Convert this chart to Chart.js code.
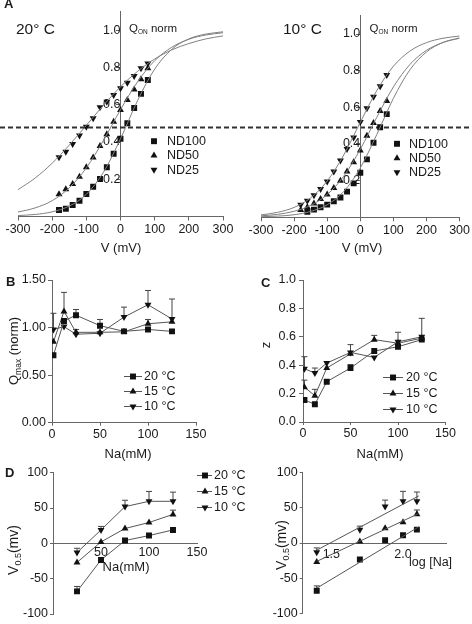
<!DOCTYPE html>
<html>
<head>
<meta charset="utf-8">
<script src="https://cdn.jsdelivr.net/npm/chart.js@4.4.1/dist/chart.umd.min.js"></script>
<style>
  html, body { margin: 0; padding: 0; background: #fff; }
  #fig { position: relative; width: 472px; height: 624px; overflow: hidden; }
  #fig canvas { position: absolute; left: 0; top: 0; }
</style>
</head>
<body>
<div id="fig">
  <canvas id="a20" width="472" height="624"></canvas>
  <canvas id="a10" width="472" height="624"></canvas>
  <canvas id="pb" width="472" height="624"></canvas>
  <canvas id="pc" width="472" height="624"></canvas>
  <canvas id="pd" width="472" height="624"></canvas>
  <canvas id="pdlog" width="472" height="624"></canvas>
</div>
<script>
// ---- data ----

// panel A: Q_ON norm vs V (mV)
const vSteps = [-180, -160, -140, -120, -100, -80, -60, -40, -20, 0, 20, 40, 60, 80];
const vSteps10nd100 = [-160, -140, -120, -100, -80, -60, -40, -20, 0, 20, 40, 60, 80];
const vFit = [-300, -250, -200, -150, -100, -50, 0, 50, 100, 150, 200, 250, 300];

const q20nd100 = [0.035, 0.042, 0.062, 0.085, 0.121, 0.160, 0.201, 0.264, 0.337, 0.417, 0.500, 0.582, 0.658, 0.732];
const q20nd50  = [0.119, 0.146, 0.174, 0.213, 0.264, 0.317, 0.378, 0.442, 0.508, 0.571, 0.625, 0.682, 0.736, 0.795];
const q20nd25  = [0.318, 0.348, 0.389, 0.434, 0.482, 0.527, 0.586, 0.616, 0.652, 0.688, 0.718, 0.754, 0.795, 0.821];
const fit20nd100 = [0.005, 0.011, 0.025, 0.056, 0.119, 0.237, 0.417, 0.622, 0.791, 0.897, 0.953, 0.979, 0.991];
const fit20nd50  = [0.024, 0.046, 0.085, 0.154, 0.261, 0.408, 0.573, 0.723, 0.836, 0.908, 0.951, 0.974, 0.986];
const fit20nd25  = [0.144, 0.206, 0.286, 0.383, 0.489, 0.597, 0.696, 0.779, 0.845, 0.894, 0.928, 0.953, 0.969];

const q10nd100 = [0.030, 0.042, 0.055, 0.069, 0.088, 0.108, 0.140, 0.185, 0.243, 0.316, 0.407, 0.491, 0.563];
const q10nd50  = [0.040, 0.055, 0.075, 0.100, 0.125, 0.160, 0.200, 0.250, 0.300, 0.365, 0.445, 0.515, 0.580, 0.635];
const q10nd25  = [0.068, 0.090, 0.120, 0.155, 0.195, 0.250, 0.310, 0.372, 0.436, 0.520, 0.595, 0.658, 0.715, 0.776];
const fit10nd100 = [0.003, 0.0065, 0.014, 0.032, 0.068, 0.141, 0.269, 0.452, 0.649, 0.805, 0.902, 0.954, 0.979];
const fit10nd50  = [0.008, 0.016, 0.033, 0.065, 0.124, 0.224, 0.371, 0.546, 0.711, 0.834, 0.911, 0.954, 0.977];
const fit10nd25  = [0.013, 0.027, 0.054, 0.106, 0.198, 0.340, 0.518, 0.692, 0.824, 0.907, 0.953, 0.977, 0.989];
const halfLevel = 0.48;

// panels B, C: vs Na (mM)
const naBC = [1.5, 12.5, 25, 50, 75, 100, 125];
const qmax20 = [0.71, 1.07, 1.13, 1.02, 0.96, 0.98, 0.96];
const qmax15 = [0.85, 1.17, 0.95, 0.95, 0.955, 1.04, 1.06];
const qmax10 = [0.98, 1.01, 0.93, 0.94, 1.11, 1.24, 1.09];
const qmaxErr20 = [0, 0, 0.06, 0.065, 0, 0, 0];
const qmaxErr15 = [0, 0.2, 0, 0, 0, 0.045, 0];
const qmaxErr10 = [0.17, 0, 0.05, 0, 0.105, 0.15, 0.21];

const z20 = [0.155, 0.125, 0.284, 0.38, 0.50, 0.53, 0.58];
const z15 = [0.245, 0.185, 0.38, 0.48, 0.58, 0.555, 0.59];
const z10 = [0.375, 0.345, 0.415, 0.49, 0.455, 0.565, 0.60];
const zErr20 = [0, 0, 0, 0.025, 0, 0, 0];
const zErr15 = [0.05, 0.045, 0, 0, 0.03, 0, 0];
const zErr10 = [0.085, 0.035, 0, 0.055, 0, 0.067, 0.13];

// panel D: V0.5 (mV) vs Na and log[Na]
const naD = [25, 50, 75, 100, 125];
const v05_20 = [-68, -23.5, 4, 11, 19];
const v05_15 = [-27, 2, 21, 29.5, 41];
const v05_10 = [-13, 19, 52, 59.5, 59.5];
const v05Err20 = [7, 0, 0, 0, 0];
const v05Err15 = [0, 0, 0, 0, 6];
const v05Err10 = [6, 5, 9, 14, 13];
const logFitX = [1.40, 2.11];
const logFit20 = [-64, 23];
const logFit15 = [-26, 42];
const logFit10 = [-10, 67];

// tick labels
const ticksAx = [-300, -200, -100, 0, 100, 200, 300];
const ticksAy = [0.2, 0.4, 0.6, 0.8, 1.0];
const ticksNa = [0, 50, 100, 150];
const ticksNaD = [50, 100, 150];
const ticksLog = [1.5, 2.0];
const ticksQmax = [0, 0.5, 1.0, 1.5];
const ticksZ = [0, 0.2, 0.4, 0.6, 0.8, 1.0];
const ticksV05 = [-100, -50, 0, 50, 100];

const ndLabels = ['ND100', 'ND50', 'ND25'];
const tempLabels = ['20 °C', '15 °C', '10 °C'];

// ---- drawing ----
const W = 472, H = 624;
const FONT = "'Liberation Sans', Arial, Helvetica, sans-serif";
const INK = '#111', AXIS = '#666', FIT = '#808080', LINE = '#555', TEXT = '#1a1a1a';

Chart.defaults.font.family = FONT;
Chart.defaults.font.size = 12.5;
Chart.defaults.color = TEXT;
Chart.defaults.animation = false;

const MARK = {
  sq: { pointStyle: 'rect', pointRadius: 4.2, pointRotation: 0 },
  up: { pointStyle: 'triangle', pointRadius: 4, pointRotation: 0 },
  dn: { pointStyle: 'triangle', pointRadius: 4, pointRotation: 180 }
};

function pts(xs, ys) { return xs.map((x, i) => ({ x: x, y: ys[i] })); }

function axis(o) {
  return {
    type: 'linear', min: o.min, max: o.max, position: o.pos,
    border: { display: true, color: AXIS, width: 1 },
    grid: { drawOnChartArea: false, drawTicks: o.tl > 0, tickLength: o.tl, color: AXIS },
    ticks: { padding: o.pad, autoSkip: false, maxRotation: 0, color: TEXT, font: { size: 12.5 }, callback: o.fmt },
    afterBuildTicks: s => { s.ticks = o.ticks.map(v => ({ value: v })); }
  };
}

function fitLine(xs, ys) {
  return { data: pts(xs, ys), showLine: true, borderColor: FIT, borderWidth: 1, pointRadius: 0,
           cubicInterpolationMode: 'monotone', fill: false };
}

function series(label, xs, ys, mk, err, joined) {
  return Object.assign({
    label: label, data: pts(xs, ys), errUp: err,
    showLine: joined, borderColor: LINE, borderWidth: 1,
    pointBackgroundColor: INK, pointBorderColor: INK, pointBorderWidth: 0,
    pointHoverRadius: mk.pointRadius
  }, mk);
}

function marker(ctx, mk, x, y) {
  const r = mk.pointRadius;
  ctx.beginPath();
  if (mk.pointStyle === 'rect') {
    const s = r * Math.SQRT1_2;
    ctx.rect(x - s, y - s, 2 * s, 2 * s);
  } else {
    const d = mk.pointRotation === 180 ? -1 : 1;
    const w = r * Math.sin(Math.PI / 3);
    ctx.moveTo(x, y - d * r);
    ctx.lineTo(x + w, y + d * r / 2);
    ctx.lineTo(x - w, y + d * r / 2);
    ctx.closePath();
  }
  ctx.fill();
}

// text with optional subscripts; parts = [[text, size, dy, bold]]
function rich(ctx, parts, x, y, align, rot) {
  ctx.save();
  ctx.translate(x, y);
  if (rot) ctx.rotate(rot);
  const fonts = parts.map(p => (p[3] ? 'bold ' : '') + p[1] + 'px ' + FONT);
  let total = 0;
  const widths = parts.map((p, i) => { ctx.font = fonts[i]; const w = ctx.measureText(p[0]).width; total += w; return w; });
  let cx = align === 'center' ? -total / 2 : 0;
  ctx.textAlign = 'left';
  ctx.textBaseline = 'alphabetic';
  ctx.fillStyle = TEXT;
  parts.forEach((p, i) => { ctx.font = fonts[i]; ctx.fillText(p[0], cx, p[2] || 0); cx += widths[i]; });
  ctx.restore();
}

function decor(cfg) {
  return {
    id: 'decor',
    beforeDatasetsDraw(chart) {
      const ctx = chart.ctx, ys = chart.scales.y;
      ctx.save();
      ctx.strokeStyle = '#444';
      ctx.lineWidth = 1;
      chart.data.datasets.forEach((d, i) => {
        if (!d.errUp) return;
        chart.getDatasetMeta(i).data.forEach((el, j) => {
          const e = d.errUp[j];
          if (!e) return;
          const top = ys.getPixelForValue(d.data[j].y + e);
          ctx.beginPath();
          ctx.moveTo(el.x, el.y);
          ctx.lineTo(el.x, top);
          ctx.moveTo(el.x - 3, top);
          ctx.lineTo(el.x + 3, top);
          ctx.stroke();
        });
      });
      ctx.restore();
    },
    afterDatasetsDraw(chart) {
      const ctx = chart.ctx;
      if (cfg.dash !== undefined) {
        const y = Math.round(chart.scales.y.getPixelForValue(cfg.dash)) + 0.5;
        ctx.save();
        ctx.strokeStyle = '#333';
        ctx.lineWidth = 1.8;
        ctx.setLineDash([5, 3]);
        ctx.beginPath();
        ctx.moveTo(0, y);
        ctx.lineTo(W, y);
        ctx.stroke();
        ctx.restore();
      }
      (cfg.texts || []).forEach(t => rich(ctx, t.parts, t.x, t.y, t.align, t.rot));
      if (cfg.legend) {
        const L = cfg.legend;
        const items = chart.data.datasets.filter(d => d.label);
        ctx.save();
        items.forEach((d, i) => {
          const y = L.ys[i];
          if (L.line) {
            ctx.strokeStyle = LINE;
            ctx.lineWidth = 1;
            ctx.beginPath();
            ctx.moveTo(L.line[0], y + 0.5);
            ctx.lineTo(L.line[1], y + 0.5);
            ctx.stroke();
          }
          ctx.fillStyle = INK;
          marker(ctx, d, L.mx, y + 0.5);
          ctx.fillStyle = TEXT;
          ctx.font = '12.5px ' + FONT;
          ctx.textAlign = 'left';
          ctx.textBaseline = 'middle';
          ctx.fillText(d.label, L.tx, y + 1);
        });
        ctx.restore();
      }
    }
  };
}

// box = [left, top, right, bottom] of the plot area in page pixels.
// A left/bottom axis is sized to fill the margin so its labels are not clipped.
function make(id, box, scales, datasets, cfg) {
  const [l, t, r, b] = box;
  const pad = { left: l, top: t, right: W - r, bottom: H - b };
  if (scales.x.position === 'bottom') {
    scales.x.afterFit = s => { s.height = H - b; };
    pad.bottom = 0;
  }
  if (scales.y.position === 'left') {
    scales.y.afterFit = s => { s.width = l; };
    pad.left = 0;
  }
  new Chart(document.getElementById(id), {
    type: 'scatter',
    data: { datasets: datasets },
    options: {
      responsive: false,
      animation: false,
      events: [],
      layout: { padding: pad, autoPadding: false },
      scales: scales,
      plugins: { legend: { display: false }, tooltip: { enabled: false }, title: { display: false } }
    },
    plugins: [decor(cfg)]
  });
}

const f1 = v => v.toFixed(1);
const f2 = v => v.toFixed(2);
const f0 = v => String(v);
const sub = (main, s, rest, size, ssize) => [[main, size], [s, ssize, 3], [rest, size]];

// A, 20 °C
make('a20', [18, 11.3, 223, 216.5], {
  x: axis({ min: -300, max: 300, pos: 'bottom', tl: 4, pad: 2, ticks: ticksAx, fmt: f0 }),
  y: axis({ min: 0, max: 1.1, pos: { x: 0 }, tl: 4, pad: 4, ticks: ticksAy, fmt: f1 })
}, [
  fitLine(vFit, fit20nd100), fitLine(vFit, fit20nd50), fitLine(vFit, fit20nd25),
  series(ndLabels[0], vSteps, q20nd100, MARK.sq, null, false),
  series(ndLabels[1], vSteps, q20nd50, MARK.up, null, false),
  series(ndLabels[2], vSteps, q20nd25, MARK.dn, null, false)
], {
  dash: halfLevel,
  texts: [
    { parts: [['A', 13, 0, true]], x: 4, y: 7.5 },
    { parts: [['20° C', 15.5]], x: 16, y: 33.5 },
    { parts: [['Q', 11.5], ['ON', 6.5, 2], [' norm', 11.5]], x: 129, y: 32 },
    { parts: [['V (mV)', 13]], x: 121, y: 251.5, align: 'center' }
  ],
  legend: { mx: 154, tx: 167, ys: [140.7, 155, 169.3] }
});

// A, 10 °C
make('a10', [261, 15.7, 462, 217.3], {
  x: axis({ min: -300, max: 300, pos: 'bottom', tl: 4, pad: 2, ticks: ticksAx, fmt: f0 }),
  y: axis({ min: 0, max: 1.1, pos: { x: 0 }, tl: 4, pad: 4, ticks: ticksAy, fmt: f1 })
}, [
  fitLine(vFit, fit10nd100), fitLine(vFit, fit10nd50), fitLine(vFit, fit10nd25),
  series(ndLabels[0], vSteps10nd100, q10nd100, MARK.sq, null, false),
  series(ndLabels[1], vSteps, q10nd50, MARK.up, null, false),
  series(ndLabels[2], vSteps, q10nd25, MARK.dn, null, false)
], {
  texts: [
    { parts: [['10° C', 15.5]], x: 283, y: 34 },
    { parts: [['Q', 11.5], ['ON', 6.5, 2], [' norm', 11.5]], x: 369.5, y: 32.3 },
    { parts: [['V (mV)', 13]], x: 362, y: 251.5, align: 'center' }
  ],
  legend: { mx: 397, tx: 409, ys: [143.3, 157.7, 171.7] }
});

// B, Qmax
make('pb', [52, 280, 196, 422.7], {
  x: axis({ min: 0, max: 150, pos: 'bottom', tl: 3, pad: 1.5, ticks: ticksNa, fmt: f0 }),
  y: axis({ min: 0, max: 1.5, pos: 'left', tl: 4, pad: 2, ticks: ticksQmax, fmt: f2 })
}, [
  series(tempLabels[0], naBC, qmax20, MARK.sq, qmaxErr20, true),
  series(tempLabels[1], naBC, qmax15, MARK.up, qmaxErr15, true),
  series(tempLabels[2], naBC, qmax10, MARK.dn, qmaxErr10, true)
], {
  texts: [
    { parts: [['B', 13, 0, true]], x: 6, y: 285.5 },
    { parts: sub('Q', 'max', ' (norm)', 13, 8.5), x: 18, y: 351, align: 'center', rot: -Math.PI / 2 },
    { parts: [['Na(mM)', 13]], x: 128, y: 458, align: 'center' }
  ],
  legend: { line: [124, 142], mx: 133, tx: 144, ys: [376, 391, 406] }
});

// C, z
make('pc', [303, 280, 445.5, 422], {
  x: axis({ min: 0, max: 150, pos: 'bottom', tl: 3, pad: 1.5, ticks: ticksNa, fmt: f0 }),
  y: axis({ min: 0, max: 1.0, pos: 'left', tl: 4, pad: 3, ticks: ticksZ, fmt: f1 })
}, [
  series(tempLabels[0], naBC, z20, MARK.sq, zErr20, true),
  series(tempLabels[1], naBC, z15, MARK.up, zErr15, true),
  series(tempLabels[2], naBC, z10, MARK.dn, zErr10, true)
], {
  texts: [
    { parts: [['C', 13, 0, true]], x: 261, y: 287 },
    { parts: [['z', 13]], x: 270, y: 345, align: 'center', rot: -Math.PI / 2 },
    { parts: [['Na(mM)', 13]], x: 380, y: 458, align: 'center' }
  ],
  legend: { line: [383, 403], mx: 393, tx: 406, ys: [377, 393, 409] }
});

// D, V0.5 vs Na
make('pd', [53, 472.7, 197, 614], {
  x: axis({ min: 0, max: 150, pos: { y: 0 }, tl: 0, pad: 2, ticks: ticksNaD, fmt: f0 }),
  y: axis({ min: -100, max: 100, pos: 'left', tl: 3, pad: 2, ticks: ticksV05, fmt: f0 })
}, [
  series(tempLabels[0], naD, v05_20, MARK.sq, v05Err20, true),
  series(tempLabels[1], naD, v05_15, MARK.up, v05Err15, true),
  series(tempLabels[2], naD, v05_10, MARK.dn, v05Err10, true)
], {
  texts: [
    { parts: [['D', 13, 0, true]], x: 5, y: 476.5 },
    { parts: sub('V', '0.5', '(mv)', 14, 9), x: 17.5, y: 550, align: 'center', rot: -Math.PI / 2 },
    { parts: [['Na(mM)', 13]], x: 126, y: 571, align: 'center' }
  ],
  legend: { line: [197, 212], mx: 205, tx: 214, ys: [475, 491, 507] }
});

// D, V0.5 vs log[Na]
const logNa = naD.map(v => Math.log10(v));
make('pdlog', [302.7, 472.7, 446, 613.3], {
  x: axis({ min: 1.3, max: 2.3, pos: { y: 0 }, tl: 0, pad: 4, ticks: ticksLog, fmt: f1 }),
  y: axis({ min: -100, max: 100, pos: 'left', tl: 3, pad: 2, ticks: ticksV05, fmt: f0 })
}, [
  { data: pts(logFitX, logFit20), showLine: true, borderColor: LINE, borderWidth: 1, pointRadius: 0 },
  { data: pts(logFitX, logFit15), showLine: true, borderColor: LINE, borderWidth: 1, pointRadius: 0 },
  { data: pts(logFitX, logFit10), showLine: true, borderColor: LINE, borderWidth: 1, pointRadius: 0 },
  series(undefined, logNa, v05_20, MARK.sq, v05Err20, false),
  series(undefined, logNa, v05_15, MARK.up, v05Err15, false),
  series(undefined, logNa, v05_10, MARK.dn, v05Err10, false)
], {
  texts: [
    { parts: sub('V', '0.5', '(mv)', 14, 9), x: 286, y: 545, align: 'center', rot: -Math.PI / 2 },
    { parts: [['log [Na]', 12.5]], x: 409, y: 566 }
  ]
});
</script>
</body>
</html>
